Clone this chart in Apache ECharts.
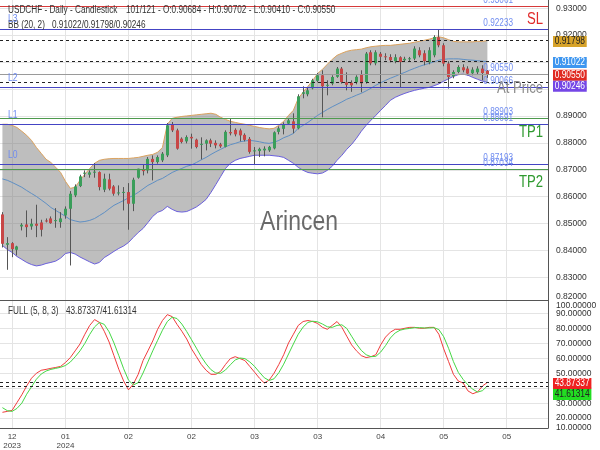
<!DOCTYPE html>
<html><head><meta charset="utf-8">
<script src="https://cdn.jsdelivr.net/npm/echarts@6/dist/echarts.min.js"></script>
<style>html,body{margin:0;padding:0;background:#fff}#c{width:600px;height:450px}</style>
</head><body><div id="c"></div>
<script>
// ---------- data ----------
const opens = [0.85342,0.84215,0.84275,0.84029,0.84896,0.84970,0.84896,0.84996,0.85044,0.85118,
0.85193,0.85118,0.85055,0.85304,0.85553,0.86048,0.86394,0.86855,0.86817,0.86903,
0.86914,0.86260,0.86643,0.86383,0.86133,0.86171,0.86171,0.85739,0.86706,0.87014,
0.86977,0.87405,0.87286,0.87349,0.87535,0.88669,0.88464,0.88156,0.88055,0.88222,
0.88119,0.87944,0.87970,0.88093,0.88000,0.87944,0.87851,0.88401,0.88483,0.88464,
0.88297,0.88148,0.87702,0.87695,0.87721,0.87721,0.87795,0.88408,0.88520,0.88713,
0.88799,0.88539,0.89821,0.89803,0.90026,0.90304,0.90509,0.90119,0.90200,0.90453,
0.90758,0.90249,0.90230,0.90249,0.90546,0.90260,0.91364,0.90955,0.91308,0.91215,
0.91189,0.91030,0.91178,0.91067,0.91122,0.91130,0.91438,0.91327,0.90992,0.91252,
0.91922,0.91624,0.90944,0.90472,0.90632,0.90806,0.90758,0.90584,0.90620,0.90758,
0.90684];
const closes = [0.84252,0.84275,0.84052,0.84152,0.84959,0.84870,0.84996,0.84921,0.84773,0.85107,
0.85018,0.85130,0.85193,0.85553,0.86111,0.86383,0.86754,0.86892,0.86903,0.86929,
0.86357,0.86669,0.86297,0.86111,0.86159,0.86178,0.85739,0.86632,0.87040,0.86951,
0.87405,0.87286,0.87472,0.87598,0.88650,0.88464,0.87784,0.88029,0.88215,0.88167,
0.87844,0.87963,0.88093,0.87970,0.87907,0.87870,0.88408,0.88353,0.88316,0.88278,
0.88111,0.87665,0.87721,0.87777,0.87784,0.87851,0.88390,0.88539,0.88687,0.88836,
0.88528,0.89728,0.89877,0.89951,0.90323,0.90509,0.90100,0.90156,0.90446,0.90758,
0.90260,0.90156,0.90137,0.90453,0.90211,0.91316,0.90955,0.91364,0.91197,0.91178,
0.91067,0.91178,0.91003,0.91122,0.91141,0.91501,0.91253,0.91030,0.91438,0.91933,
0.91624,0.90944,0.90446,0.90632,0.90817,0.90695,0.90572,0.90721,0.90758,0.90594,
0.90550];
const highs = [0.85427,0.84498,0.84312,0.84178,0.85018,0.85490,0.85182,0.85702,0.85144,0.85193,
0.85267,0.85576,0.85427,0.85639,0.86208,0.86457,0.86817,0.86977,0.86977,0.87249,
0.86940,0.86855,0.86855,0.86431,0.86420,0.86357,0.86505,0.86706,0.87040,0.87200,
0.87472,0.87535,0.87535,0.87658,0.88736,0.88773,0.88528,0.88204,0.88278,0.88341,
0.88156,0.88204,0.88130,0.88156,0.88093,0.88000,0.88464,0.88899,0.88539,0.88528,
0.88353,0.88215,0.87844,0.87821,0.87870,0.87888,0.88427,0.88613,0.88762,0.88910,
0.89096,0.89803,0.90100,0.90063,0.90379,0.90594,0.90695,0.90323,0.90509,0.90817,
0.90817,0.90620,0.90323,0.90509,0.90695,0.91375,0.91438,0.91438,0.91375,0.91327,
0.91290,0.91290,0.91215,0.91197,0.91190,0.91587,0.91550,0.91438,0.91550,0.91996,
0.92200,0.91698,0.91030,0.90695,0.90881,0.90918,0.90843,0.90806,0.90843,0.90881,
0.90702];
const lows = [0.84115,0.83286,0.83754,0.83817,0.84747,0.84498,0.84773,0.84498,0.84524,0.85044,
0.84996,0.84847,0.84847,0.85182,0.83446,0.85985,0.86357,0.86728,0.86706,0.86706,
0.86234,0.86171,0.86234,0.86037,0.86048,0.85490,0.84773,0.85464,0.86669,0.86791,
0.86866,0.86606,0.87226,0.87286,0.87472,0.88401,0.87747,0.87981,0.87981,0.87784,
0.87795,0.87386,0.87721,0.87844,0.87795,0.87814,0.87832,0.88278,0.88241,0.88055,
0.88055,0.87598,0.87200,0.87472,0.87498,0.87665,0.87758,0.88315,0.88315,0.88669,
0.88353,0.88501,0.89654,0.89728,0.89988,0.90249,0.88948,0.89765,0.90137,0.90416,
0.90200,0.89951,0.89895,0.90174,0.89877,0.90200,0.90881,0.90881,0.90026,0.91067,
0.90992,0.90955,0.90074,0.91011,0.91003,0.91067,0.91178,0.90881,0.90918,0.91178,
0.91550,0.90843,0.90015,0.90397,0.90584,0.90620,0.90509,0.90509,0.90546,0.90323,
0.90410];

const bbUpper = [0.8869,0.8869,0.8865,0.8857,0.8843,0.8828,0.8809,0.8783,0.8761,0.8739,
0.8727,0.8709,0.8690,0.8657,0.8631,0.8635,0.8661,0.8683,0.8705,0.8724,
0.8735,0.8739,0.8741,0.8742,0.8742,0.8742,0.8742,0.8744,0.8746,0.8750,
0.8754,0.8757,0.8765,0.8783,0.8869,0.8891,0.8895,0.8898,0.8900,0.8902,
0.8904,0.8906,0.8908,0.8910,0.8906,0.8895,0.8887,0.8880,0.8876,0.8872,
0.8869,0.8865,0.8861,0.8857,0.8854,0.8852,0.8854,0.8865,0.8880,0.8902,
0.8921,0.8965,0.8988,0.9010,0.9032,0.9058,0.9073,0.9092,0.9110,0.9125,
0.9133,0.9140,0.9144,0.9146,0.9148,0.9153,0.9157,0.9159,0.9161,0.9162,
0.9162,0.9164,0.9166,0.9168,0.9170,0.9174,0.9177,0.9181,0.9185,0.9190,
0.9194,0.9190,0.9183,0.9177,0.9175,0.9175,0.9175,0.9175,0.9177,0.9177,
0.91798];
const bbMiddle = [0.8666,0.8661,0.8653,0.8644,0.8635,0.8623,0.8612,0.8601,0.8588,0.8575,
0.8560,0.8549,0.8538,0.8527,0.8515,0.8510,0.8506,0.8508,0.8512,0.8519,
0.8530,0.8541,0.8555,0.8568,0.8577,0.8586,0.8596,0.8605,0.8616,0.8629,
0.8642,0.8651,0.8661,0.8668,0.8679,0.8690,0.8698,0.8705,0.8713,0.8718,
0.8727,0.8737,0.8746,0.8757,0.8767,0.8776,0.8785,0.8793,0.8798,0.8804,
0.8807,0.8809,0.8807,0.8804,0.8800,0.8798,0.8802,0.8809,0.8819,0.8826,
0.8835,0.8854,0.8865,0.8876,0.8889,0.8902,0.8913,0.8924,0.8934,0.8943,
0.8952,0.8962,0.8969,0.8977,0.8984,0.8993,0.9003,0.9014,0.9023,0.9032,
0.9040,0.9047,0.9055,0.9062,0.9070,0.9077,0.9084,0.9090,0.9095,0.9101,
0.9107,0.9110,0.9112,0.9112,0.9112,0.9110,0.9108,0.9107,0.9105,0.9103,
0.91022];
const bbLower = [0.8419,0.8404,0.8393,0.8378,0.8367,0.8356,0.8348,0.8343,0.8346,0.8352,
0.8356,0.8361,0.8372,0.8389,0.8393,0.8387,0.8376,0.8367,0.8358,0.8350,
0.8356,0.8374,0.8385,0.8397,0.8408,0.8417,0.8430,0.8449,0.8467,0.8482,
0.8504,0.8527,0.8542,0.8549,0.8564,0.8553,0.8545,0.8543,0.8545,0.8553,
0.8562,0.8575,0.8590,0.8616,0.8645,0.8675,0.8705,0.8724,0.8735,0.8742,
0.8746,0.8750,0.8754,0.8754,0.8754,0.8754,0.8752,0.8750,0.8746,0.8735,
0.8724,0.8709,0.8698,0.8690,0.8687,0.8685,0.8688,0.8698,0.8713,0.8735,
0.8754,0.8776,0.8794,0.8817,0.8843,0.8865,0.8884,0.8902,0.8921,0.8939,
0.8958,0.8969,0.8977,0.8984,0.8990,0.8995,0.8999,0.9003,0.9006,0.9012,
0.9019,0.9029,0.9038,0.9047,0.9053,0.9055,0.9051,0.9043,0.9036,0.9029,
0.90246];

const stochK = [23.9,24.5,25.2,30.4,35.6,41.5,46.7,50,52,52.6,
53.3,53.9,54.6,57.2,60.5,65,69.6,76.1,82,85.9,
84,78.1,70.9,61.8,52.6,44.8,38.9,42.8,49.3,58.5,
65,71.6,79.4,85.3,89.2,87.9,82.7,78.1,72.9,66.3,
61.1,55.9,52,49.3,49.3,51.3,55.9,59.8,61.1,59.8,
58.5,54.6,50.7,46.7,43.5,45.4,50,55.9,62.4,70.3,
76.1,82,84.6,85.3,84.6,83.3,80.7,79.4,82,84.6,
80.7,74.8,69,65,61.8,60.5,61.1,62.4,69,74.2,
77.5,79.4,79.4,80.1,80.7,80.7,80.1,80.1,80.7,80.7,
76.1,66.3,57.8,49.3,44.8,43.5,38.2,36.3,37.6,41.5,
43.87337];
const stochD = [27,25,24.5,26.5,30,36,41,46,49.5,51.5,
52.6,53.3,54,55.2,57.5,61,65,70,76,81,
84,82.7,77.7,70.3,61.8,53,45.4,42.2,43.7,50.2,
57.6,65,72,78.8,84.6,87.5,86.6,82.9,77.9,72.4,
66.8,61.1,56.3,52.4,50.2,50,52.2,55.7,58.9,60.2,
59.8,57.6,54.6,50.7,47,45.2,46.3,50.4,56.1,62.9,
69.6,76.1,80.9,84,84.8,84.4,82.9,81.1,80.7,82,
82.4,80,74.8,69.6,65.3,62.4,61.1,61.3,64.2,68.5,
73.6,77,78.8,79.6,80,80.5,80.5,80.3,80.3,80.5,
79.2,74.4,66.7,57.8,50.6,45.9,42.2,39.3,37.4,38.4,
41.61314];

// calendar / ticks
const startDate = '2023-12-27';
const totalSlots = 113;
const tickIdx = [2, 13, 26, 39, 52, 65, 78, 91, 104];
const priceTicks = [0.83,0.84,0.85,0.86,0.87,0.88,0.89,0.90,0.91,0.92,0.93];
const stochTicks = [20,30,40,50,60,70,80,90];
const stochEdgeLabels = [[100, 306], [10, 428]]; // clamped edge labels: value, pixel row

// levels
const levelSL = 0.93061, levelL3 = 0.92233, levelL2 = 0.90066, levelL1 = 0.88691,
      levelTP1 = 0.88903, levelL0 = 0.87193, levelTP2 = 0.87034, atPrice = 0.90550;
const symbolName = 'USDCHF', timeframe = 'Daily', chartKind = 'Candlestick', barPos = '101/121';

// ---------- build ----------
const dates = [];
{
  const d = new Date(startDate + 'T00:00:00Z');
  while (dates.length < totalSlots) {
    const wd = d.getUTCDay();
    if (wd !== 0 && wd !== 6) dates.push(d.toISOString().slice(0, 10));
    d.setUTCDate(d.getUTCDate() + 1);
  }
}
const tickSet = new Set(tickIdx);
const N = opens.length;
const last = N - 1;
const candleData = opens.map((o, i) => [i, o, closes[i], lows[i], highs[i]]);
const bandDiff = bbUpper.map((u, i) => +(u - bbLower[i]).toFixed(6));

const FONT = "'Liberation Sans', Arial, sans-serif";
const SX = 0.82; // narrow text like the reference
const LINEBLUE = '#4444c4', LINEGREEN = '#4e9a4e', LINERED = '#d63a3a', LABELBLUE = '#6f8cf0';

const chart = echarts.init(document.getElementById('c'), null, {renderer: 'canvas'});

function gridLineSeries(xi, yi, yv) {
  return {
    type: 'custom', xAxisIndex: xi, yAxisIndex: yi, z: 0, silent: true, clip: false,
    data: tickIdx.map(i => [i, yv]),
    encode: {x: 0, y: 1},
    renderItem(params, api) {
      const x = Math.round(api.coord([api.value(0), api.value(1)])[0] - 0.5) + 0.5;
      const cs = params.coordSys;
      return {type: 'line', shape: {x1: x, y1: cs.y, x2: x, y2: cs.y + cs.height},
              style: {stroke: '#e4e4e4', lineWidth: 1}};
    }
  };
}

function renderCandle(params, api) {
  const i = api.value(0), o = api.value(1), c = api.value(2), l = api.value(3), h = api.value(4);
  const pO = api.coord([i, o]), pC = api.coord([i, c]), pL = api.coord([i, l]), pH = api.coord([i, h]);
  const w = Math.max(1, Math.round(api.size([1, 0])[0] * 0.62));
  const lx = Math.round(pO[0] - 0.5) + 0.5;
  const top = Math.min(pO[1], pC[1]);
  const bh = Math.max(1, Math.abs(pO[1] - pC[1]));
  const up = c >= o;
  return {type: 'group', children: [
    {type: 'line', shape: {x1: lx, y1: pH[1], x2: lx, y2: pL[1]}, style: {stroke: '#555', lineWidth: 1}},
    {type: 'rect', shape: {x: lx - w / 2, y: top, width: w, height: bh},
     style: {fill: up ? '#3a9e5a' : '#c84646'}}
  ]};
}

const ml = (v, color, type) => ({yAxis: v, lineStyle: {color, type: type || 'solid', width: 1}});
const axisLabelBase = {color: '#333', fontSize: 8.5, fontFamily: FONT, margin: 8, hideOverlap: false};

const option = {
  animation: false,
  backgroundColor: '#fff',
  grid: [
    {left: 0, right: 52, top: 0, height: 300},
    {left: 0, right: 52, top: 300, height: 131}
  ],
  xAxis: [
    {type: 'category', gridIndex: 0, data: dates, boundaryGap: true,
     axisLine: {show: false}, axisTick: {show: false}, axisLabel: {show: false}, splitLine: {show: false}},
    {type: 'category', gridIndex: 1, data: dates, boundaryGap: true, position: 'bottom',
     axisLine: {show: true, lineStyle: {color: '#555'}}, axisTick: {show: false}, splitLine: {show: false},
     axisLabel: {
       show: true, interval: (idx) => tickSet.has(idx), color: '#444', fontSize: 8, fontFamily: FONT,
       margin: 4, lineHeight: 9, hideOverlap: false,
       formatter: (val, idx) => {
         const [y, m] = val.split('-');
         return (idx === tickIdx[0] || m === '01') ? m + '\n' + y : m;
       }
     }},
    {type: 'category', gridIndex: 1, data: dates, boundaryGap: true, position: 'top',
     axisLine: {show: true, lineStyle: {color: '#555'}}, axisTick: {show: false}, axisLabel: {show: false}, splitLine: {show: false}}
  ],
  yAxis: [
    {type: 'value', gridIndex: 0, position: 'right', min: 0.82164, max: 0.93305,
     axisLine: {show: true, lineStyle: {color: '#555'}},
     axisTick: {show: false, customValues: priceTicks},
     splitLine: {show: true, lineStyle: {color: '#e4e4e4'}},
     axisLabel: Object.assign({}, axisLabelBase, {customValues: [0.8227].concat(priceTicks),
                 showMinLabel: true, showMaxLabel: true,
                 formatter: v => v < 0.825 ? '0.82000' : v.toFixed(5)})},
    {type: 'value', gridIndex: 1, position: 'right', min: 13.4, max: 99,
     axisLine: {show: true, lineStyle: {color: '#555'}},
     axisTick: {show: false, customValues: stochTicks},
     splitLine: {show: true, lineStyle: {color: '#e4e4e4'}},
     axisLabel: Object.assign({}, axisLabelBase, {customValues: stochTicks,
                 showMinLabel: true, showMaxLabel: true,
                 formatter: v => v.toFixed(5)})}
  ],
  series: [
    gridLineSeries(0, 0, 0.88),
    gridLineSeries(1, 1, 50),
    {name: 'bbBase', type: 'line', xAxisIndex: 0, yAxisIndex: 0, data: bbLower, stack: 'bb',
     symbol: 'none', lineStyle: {opacity: 0}, z: 1, silent: true},
    {name: 'bbFill', type: 'line', xAxisIndex: 0, yAxisIndex: 0, data: bandDiff, stack: 'bb',
     symbol: 'none', lineStyle: {opacity: 0}, areaStyle: {color: 'rgba(120,120,120,0.48)', opacity: 1}, z: 1, silent: true},
    {name: 'bbUpper', type: 'line', xAxisIndex: 0, yAxisIndex: 0, data: bbUpper, symbol: 'none',
     lineStyle: {color: '#dba25e', width: 1}, z: 2, silent: true},
    {name: 'bbLower', type: 'line', xAxisIndex: 0, yAxisIndex: 0, data: bbLower, symbol: 'none',
     lineStyle: {color: '#6a5fdc', width: 1}, z: 2, silent: true},
    {name: 'bbMiddle', type: 'line', xAxisIndex: 0, yAxisIndex: 0, data: bbMiddle, symbol: 'none',
     lineStyle: {color: '#5e8fc4', width: 1}, z: 2, silent: true,
     markLine: {silent: true, precision: 6, symbol: ['none', 'none'], label: {show: false}, animation: false,
       data: [
         ml(levelSL, LINERED),
         ml(levelL3, LINEBLUE),
         ml(bbUpper[last], '#222', [3, 3]),
         ml(bbMiddle[last], '#222', [3, 3]),
         ml(atPrice, '#9a9a9a'),
         ml(bbLower[last], '#222', [3, 3]),
         ml(levelL2, LINEBLUE),
         ml(levelTP1, LINEGREEN),
         ml(levelL1, LINEBLUE),
         ml(levelL0, LINEBLUE),
         ml(levelTP2, LINEGREEN)
       ]}},
    {name: 'candles', type: 'custom', xAxisIndex: 0, yAxisIndex: 0, data: candleData,
     encode: {x: 0, y: [1, 2, 3, 4]}, renderItem: renderCandle, z: 3, clip: true, silent: true},
    {name: '%K', type: 'line', xAxisIndex: 1, yAxisIndex: 1, data: stochK, symbol: 'none',
     lineStyle: {color: '#f03c3c', width: 1}, z: 3, silent: true,
     markLine: {silent: true, precision: 6, symbol: ['none', 'none'], label: {show: false}, animation: false,
       data: [ml(stochK[last], '#222', [3, 3]), ml(stochD[last], '#222', [3, 3])]}},
    {name: '%D', type: 'line', xAxisIndex: 1, yAxisIndex: 1, data: stochD, symbol: 'none',
     lineStyle: {color: '#45d845', width: 1}, z: 3, silent: true}
  ]
};
chart.setOption(option);

// ---------- annotations ----------
const yP = v => chart.convertToPixel({yAxisIndex: 0}, v);
const yS = v => chart.convertToPixel({yAxisIndex: 1}, v);
const f5 = v => v.toFixed(5);
const G = [];
const txt = (text, x, y, o, sx) => G.push({type: 'text', x, y, scaleX: sx == null ? SX : sx, z: 100, silent: true,
  style: Object.assign({text, x: 0, y: 0, fill: '#333', fontSize: 10, fontFamily: FONT,
    verticalAlign: 'middle', align: 'left'}, o || {})});

// header
txt(`${symbolName} - ${timeframe} - ${chartKind}`, 8, 10.5);
txt(`${barPos} - O:${f5(opens[last])} - H:${f5(highs[last])} - L:${f5(lows[last])} - C:${f5(closes[last])}`, 126, 10.5);
txt('BB (20, 2)', 8, 25);
txt(`${f5(bbMiddle[last])}/${f5(bbUpper[last])}/${f5(bbLower[last])}`, 52, 25);
txt('FULL (5, 8, 3)', 8, 311.5);
txt(`${f5(stochK[last])}/${f5(stochD[last])}`, 66, 311.5);

// clamped edge labels of the stochastic axis (shown at the panel edges, like the reference)
const stochAxisX = chart.convertToPixel({xAxisIndex: 1}, dates[totalSlots - 1]) + 548 / totalSlots / 2 + 8;
stochEdgeLabels.forEach(([v, py]) => txt(f5(v), stochAxisX, py, {fontSize: 8.5, fill: '#333'}, 1));

// level price labels (above each line)
[levelSL, levelL3, atPrice, levelL2, levelTP1, levelL1, levelL0, levelTP2].forEach(v => {
  txt(f5(v), 513, yP(v) - 1, {align: 'right', verticalAlign: 'bottom', fill: LABELBLUE, fontSize: 10});
});
// level names on the left
[['L3', levelL3], ['L2', levelL2], ['L1', levelL1], ['L0', levelL0]].forEach(([n, v]) => {
  txt(n, 8, yP(v) - 4, {verticalAlign: 'bottom', fill: LABELBLUE, fontSize: 10.5});
});
txt('SL', 543, yP(levelSL) + 5, {align: 'right', verticalAlign: 'top', fill: '#e02a2a', fontSize: 16});
txt('TP1', 543, yP(levelTP1) + 6, {align: 'right', verticalAlign: 'top', fill: '#2f9a2f', fontSize: 16});
txt('TP2', 543, yP(levelTP2) + 6, {align: 'right', verticalAlign: 'top', fill: '#2f9a2f', fontSize: 16});
txt('At Price', 543, yP(atPrice) + 6, {align: 'right', verticalAlign: 'top', fill: '#8c8c8c', fontSize: 16});

// watermark
txt('Arincen', 299, 222, {align: 'center', fill: '#5a5a5a', fontSize: 28, opacity: 0.9});

// value tags on the right axis
function tags(list, yFn) {
  const items = list.map(t => Object.assign({}, t, {y: yFn(t.v) + 1})).sort((a, b) => a.y - b.y);
  for (let i = 1; i < items.length; i++) if (items[i].y - items[i - 1].y < 11) items[i].y = items[i - 1].y + 11;
  items.forEach(t => txt(t.text, 553, t.y, {fill: t.fg, backgroundColor: t.bg, padding: [1, 2, 0, 2], fontSize: 10}, 0.84));
}
tags([
  {v: bbUpper[last], text: f5(bbUpper[last]), bg: '#d7a32a', fg: '#222'},
  {v: bbMiddle[last], text: f5(bbMiddle[last]), bg: '#3d96f0', fg: '#fff'},
  {v: closes[last], text: f5(closes[last]), bg: '#e02a22', fg: '#fff'},
  {v: bbLower[last], text: f5(bbLower[last]), bg: '#7446e6', fg: '#fff'}
], yP);
tags([
  {v: stochK[last], text: f5(stochK[last]), bg: '#ee2222', fg: '#fff'},
  {v: stochD[last], text: f5(stochD[last]), bg: '#22dd22', fg: '#222'}
], yS);

chart.setOption({graphic: {elements: G}});
</script>
</body></html>
